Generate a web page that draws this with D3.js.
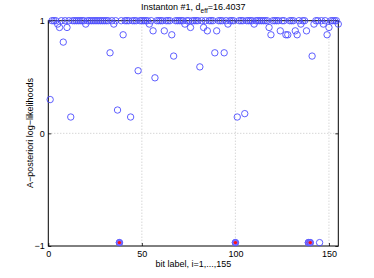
<!DOCTYPE html>
<html>
<head>
<meta charset="utf-8">
<script src="https://cdn.jsdelivr.net/npm/d3@7"></script>
<style>
  body { margin: 0; background: #fff; }
  svg { display: block; font-family: "Liberation Sans", Arial, sans-serif; }
</style>
</head>
<body>
<svg id="chart" width="374" height="278"></svg>
<script>
// a-posteriori log-likelihood per bit, i = 1..155
const llr = [
  0.30, 1, 1, 1, 0.97, 0.94, 1, 0.81, 1, 0.94,
  1, 0.145, 1, 1, 1, 1, 1, 1, 1, 0.97,
  1, 1, 1, 1, 1, 1, 1, 1, 1, 1,
  1, 1, 0.715, 1, 0.97, 1, 0.207, -0.97, 1, 0.875,
  1, 1, 1, 0.145, 1, 1, 1, 0.556, 1, 1,
  1, 1, 1, 0.97, 1, 0.91, 0.493, 1, 1, 1,
  1, 0.91, 1, 1, 1, 0.875, 0.686, 1, 1, 1,
  1, 1, 0.97, 1, 1, 0.94, 1, 1, 1, 1,
  0.59, 1, 0.94, 1, 0.91, 1, 1, 1, 0.715, 0.91,
  1, 1, 1, 0.715, 1, 0.97, 1, 1, 1, -0.97,
  0.145, 1, 1, 1, 0.175, 1, 1, 1, 1, 0.97,
  1, 1, 1, 1, 1, 1, 1, 0.94, 0.875, 1,
  1, 1, 1, 0.91, 1, 1, 0.875, 0.875, 1, 1,
  1, 0.91, 0.875, 1, 0.97, 1, 1, 0.91, -0.97, -0.97,
  0.686, 0.97, 1, 1, -0.97, 1, 0.97, 1, 0.875, 0.94,
  1, 1, 1, 1, 0.97
];
// bits flipped by the instanton (marked red)
const flipped = [38, 100, 139, 140];
const xTicks = [0, 50, 100, 150];
const yTicks = [-1, 0, 1];

const data = llr.map((v, k) => ({ i: k + 1, v: v }));

const svg = d3.select("#chart");
const m = { left: 48.3, right: 338.3, top: 20.7, bottom: 246 };

const x = d3.scaleLinear().domain([0, 155]).range([m.left, m.right]);
const y = d3.scaleLinear().domain([-1, 1]).range([m.bottom, m.top]);

// grid
const grid = svg.append("g").attr("stroke", "#b8b8b8").attr("stroke-dasharray", "1,2").attr("stroke-width", 0.8);
grid.selectAll(".gx").data(xTicks.filter(d => d > 0)).join("line")
  .attr("x1", d => x(d)).attr("x2", d => x(d)).attr("y1", m.top).attr("y2", m.bottom);
grid.selectAll(".gy").data(yTicks.filter(d => d > -1 && d < 1)).join("line")
  .attr("y1", d => y(d)).attr("y2", d => y(d)).attr("x1", m.left).attr("x2", m.right);

// axes (inner ticks, MATLAB style)
const fs = 9;
svg.append("g").attr("transform", `translate(0,${m.bottom})`)
  .call(d3.axisBottom(x).tickValues(xTicks).tickSize(-3).tickPadding(5));
svg.append("g").attr("transform", `translate(${m.left},0)`)
  .call(d3.axisLeft(y).tickValues(yTicks).tickSize(-3).tickPadding(3.5).tickFormat(d => d < 0 ? "\u2212" + Math.abs(d) : d));
svg.append("g").attr("transform", `translate(0,${m.top})`)
  .call(d3.axisTop(x).tickValues(xTicks).tickSize(-3).tickFormat(""));
svg.append("g").attr("transform", `translate(${m.right},0)`)
  .call(d3.axisRight(y).tickValues(yTicks).tickSize(-3).tickFormat(""));
svg.selectAll(".domain").remove();
svg.selectAll(".tick line").attr("stroke", "#000").attr("stroke-width", 0.8);
svg.selectAll(".tick text").attr("font-size", fs).attr("fill", "#000").attr("font-family", null);

// frame
svg.append("rect")
  .attr("x", m.left).attr("y", m.top)
  .attr("width", m.right - m.left).attr("height", m.bottom - m.top)
  .attr("fill", "none").attr("stroke", "#000").attr("stroke-width", 1);

// points
svg.append("g").selectAll("circle").data(data).join("circle")
  .attr("cx", d => x(d.i)).attr("cy", d => y(d.v)).attr("r", 3.2)
  .attr("fill", "none").attr("stroke", "#4d4dff").attr("stroke-width", 0.9);

const fl = svg.append("g").selectAll("g").data(data.filter(d => flipped.includes(d.i))).join("g")
  .attr("transform", d => `translate(${x(d.i)},${y(d.v)})`);
fl.append("circle").attr("r", 3.2).attr("fill", "#7a6cff").attr("stroke", "#5a5aff").attr("stroke-width", 0.8);
fl.append("circle").attr("r", 1.7).attr("fill", "#ff1010");

// title
const t = svg.append("text").attr("x", (m.left + m.right) / 2).attr("y", 10)
  .attr("text-anchor", "middle").attr("font-size", fs);
t.append("tspan").text("Instanton #1, d");
t.append("tspan").attr("dy", 3).attr("font-size", 6.5).text("eff");
t.append("tspan").attr("dy", -3).text("=16.4037");

// axis labels
svg.append("text").attr("x", (m.left + m.right) / 2).attr("y", 267)
  .attr("text-anchor", "middle").attr("font-size", fs).text("bit label, i=1,...,155");
svg.append("text").attr("transform", `translate(32.5,133) rotate(-90)`)
  .attr("text-anchor", "middle").attr("font-size", fs).text("A\u2212posteriori log\u2212likelihoods");
</script>
</body>
</html>
